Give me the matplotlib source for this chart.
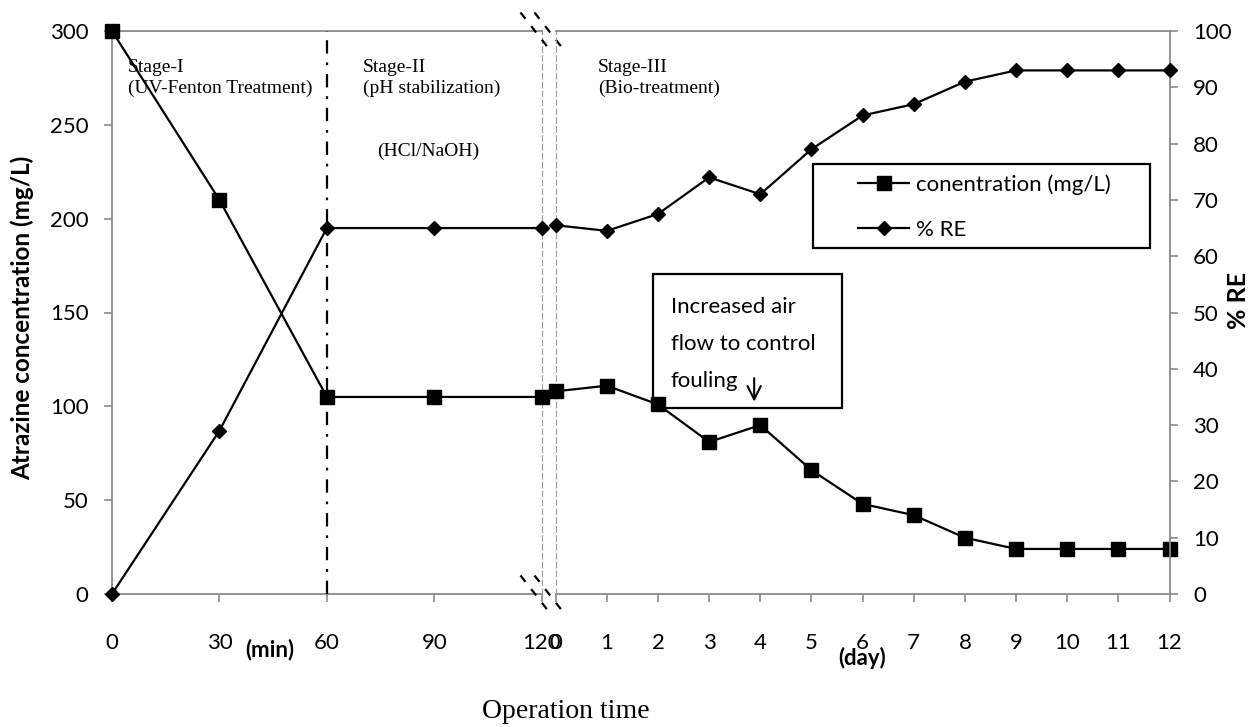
import matplotlib
matplotlib.use("Agg")
import matplotlib.pyplot as plt
from matplotlib.patches import Rectangle

# data
min_time = [0, 30, 60, 90, 120]
min_conc = [300, 210, 105, 105, 105]
min_re = [0, 29, 65, 65, 65]

day_time = [0, 1, 2, 3, 4, 5, 6, 7, 8, 9, 10, 11, 12]
day_conc = [108, 111, 101, 81, 90, 66, 48, 42, 30, 24, 24, 24, 24]
day_re = [65.5, 64.5, 67.5, 74, 71, 79, 85, 87, 91, 93, 93, 93, 93]

min_ticks = [0, 30, 60, 90, 120]
conc_ticks = [0, 50, 100, 150, 200, 250, 300]
re_ticks = [0, 10, 20, 30, 40, 50, 60, 70, 80, 90, 100]

SANS = ["Lato", "DejaVu Sans"]
SERIF = ["Liberation Serif", "DejaVu Serif"]
GRAY = "#8a8a8a"
TICK_FS = 16

plt.rcParams["font.family"] = SANS

fig = plt.figure(figsize=(12.54, 7.27), dpi=100)

W, H = 1254, 727
bot_px, top_px = 594, 31


def fig_rect(x0, x1):
    return [x0 / W, 1 - bot_px / H, (x1 - x0) / W, (bot_px - top_px) / H]


ax_min = fig.add_axes(fig_rect(112, 541.7))
ax_day = fig.add_axes(fig_rect(555.7, 1169.5))
ax_min_re = ax_min.twinx()
ax_day_re = ax_day.twinx()

line_kw = dict(color="black", linewidth=1.6, clip_on=False, zorder=5)
sq_kw = dict(marker="s", markersize=10)
dm_kw = dict(marker="D", markersize=7)

conc_line, = ax_min.plot(min_time, min_conc, label="conentration (mg/L)", **sq_kw, **line_kw)
ax_day.plot(day_time, day_conc, **sq_kw, **line_kw)
re_line, = ax_min_re.plot(min_time, min_re, label="% RE", **dm_kw, **line_kw)
ax_day_re.plot(day_time, day_re, **dm_kw, **line_kw)

for a in (ax_min, ax_day):
    a.set_ylim(0, 300)
for a in (ax_min_re, ax_day_re):
    a.set_ylim(0, 100)
ax_min.set_xlim(0, 120)
ax_day.set_xlim(0, 12)

for a in (ax_min, ax_day, ax_min_re, ax_day_re):
    for s in a.spines.values():
        s.set_visible(False)
    a.patch.set_visible(False)

for a in (ax_min, ax_day):
    for side in ("top", "bottom"):
        a.spines[side].set_visible(True)
        a.spines[side].set_color(GRAY)
        a.spines[side].set_linewidth(1.3)

ax_min.spines["left"].set_visible(True)
ax_min.spines["left"].set_color(GRAY)
ax_min.spines["left"].set_linewidth(1.3)
ax_day_re.spines["right"].set_visible(True)
ax_day_re.spines["right"].set_color(GRAY)
ax_day_re.spines["right"].set_linewidth(1.3)

# dashed panel edges
ax_min.spines["right"].set_visible(True)
ax_min.spines["right"].set_color("#9a9a9a")
ax_min.spines["right"].set_linestyle((0, (5, 3)))
ax_day.spines["left"].set_visible(True)
ax_day.spines["left"].set_color("#9a9a9a")
ax_day.spines["left"].set_linestyle((0, (5, 3)))

tick_kw = dict(direction="out", length=6, width=1.2, color=GRAY, labelsize=TICK_FS)
ax_min.set_xticks(min_ticks)
ax_day.set_xticks(day_time)
ax_min.tick_params(axis="x", pad=22, **tick_kw)
ax_day.tick_params(axis="x", pad=22, **tick_kw)
ax_min.set_yticks(conc_ticks)
ax_min.tick_params(axis="y", pad=11, **tick_kw)
ax_day.tick_params(axis="y", left=False, labelleft=False)
ax_min_re.tick_params(axis="y", right=False, labelright=False)
ax_day_re.set_yticks(re_ticks)
ax_day_re.tick_params(axis="y", pad=11, **tick_kw)

# stage divider at 60 min
ax_min.axvline(60, color="black", linewidth=1.6, linestyle=(0, (6, 4, 1.2, 4)), zorder=3)

# break marks
brk_kw = dict(color="black", linewidth=1.6, linestyle=(0, (3.6, 4.2)),
              transform=ax_min.transAxes, clip_on=False, zorder=6)
dx, dy = 14.5 / 429.7, 18.5 / 563
for cx in (-6.7 / 429.7, 7.3 / 429.7):
    for cy in (0.0, 1.0):
        ax_min.plot([1 + cx - dx, 1 + cx + dx], [cy + dy, cy - dy], **brk_kw)

# stage texts
stage_kw = dict(fontsize=14, family=SERIF, va="top", ha="left", linespacing=1.25)
ax_min.text(4.5, 285, "Stage-I\n(UV-Fenton Treatment)", **stage_kw)
ax_min.text(70.1, 285, "Stage-II\n(pH stabilization)", **stage_kw)
ax_min.text(74, 236, "(HCl/NaOH)", fontsize=14, family=SERIF, va="center", ha="left")
ax_day.text(0.83, 285, "Stage-III\n(Bio-treatment)", **stage_kw)

# annotation box
ax_day.add_patch(Rectangle((1.90, 99.1), 3.70, 71.4, fill=False, edgecolor="black",
                           linewidth=1.6, zorder=4, clip_on=False))
note_lines = ["Increased air", "flow to control", "fouling"]
note_base = [149.7, 130.0, 110.3]
for txt, yb in zip(note_lines, note_base):
    ax_day.text(2.25, yb, txt, fontsize=16, va="baseline", ha="left")
ax_day.annotate("", xy=(3.88, 101.0), xytext=(3.88, 116.5),
                arrowprops=dict(arrowstyle="->", color="black", lw=1.5, mutation_scale=24))

# legend with separate frame
ax_day_re.add_patch(Rectangle((0.4187, 0.6146), 0.5493, 0.1492, transform=ax_day_re.transAxes,
                              facecolor="white", edgecolor="black", linewidth=1.6,
                              zorder=7, clip_on=False))
leg = ax_day_re.legend(handles=[conc_line, re_line], loc="upper left",
                       bbox_to_anchor=(0.4925, 0.745), borderaxespad=0, borderpad=0,
                       frameon=False, fontsize=16, handlelength=2.3, handletextpad=0.3,
                       labelspacing=1.12)
leg.set_zorder(8)

# axis titles
fig.text(22 / W, 1 - 318 / H, "Atrazine concentration (mg/L)", rotation=90,
         fontsize=17.5, fontweight="bold", ha="center", va="center")
fig.text(1238 / W, 1 - 300 / H, "% RE", rotation=90, fontsize=18,
         fontweight="bold", ha="center", va="center")
fig.text(270 / W, 1 - 650 / H, "(min)", fontsize=16, fontweight="bold",
         ha="center", va="center")
fig.text(862 / W, 1 - 658 / H, "(day)", fontsize=16, fontweight="bold",
         ha="center", va="center")
fig.text(566 / W, 1 - 711 / H, "Operation time", fontsize=20, family=SERIF,
         ha="center", va="center")

fig.savefig("out.png", dpi=100, facecolor="white")
